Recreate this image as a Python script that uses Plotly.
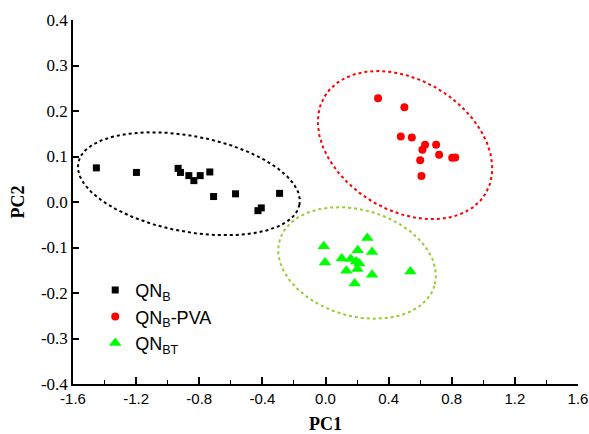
import numpy as np
import plotly.graph_objects as go

# ---- data ----
qnb_x = [-1.452, -1.198, -0.934, -0.919, -0.866, -0.834, -0.794, -0.733, -0.709, -0.570, -0.428, -0.407, -0.291]
qnb_y = [0.075, 0.065, 0.074, 0.065, 0.058, 0.047, 0.058, 0.066, 0.012, 0.018, -0.019, -0.013, 0.019]

pva_x = [0.333, 0.500, 0.477, 0.547, 0.631, 0.701, 0.614, 0.720, 0.600, 0.803, 0.822, 0.608]
pva_y = [0.228, 0.208, 0.144, 0.142, 0.126, 0.126, 0.115, 0.104, 0.092, 0.097, 0.098, 0.057]

qnbt_x = [-0.011, 0.265, 0.204, 0.295, -0.003, 0.103, 0.160, 0.194, 0.214, 0.202, 0.132, 0.295, 0.538, 0.185]
qnbt_y = [-0.097, -0.079, -0.106, -0.110, -0.133, -0.124, -0.125, -0.131, -0.135, -0.147, -0.151, -0.160, -0.153, -0.179]

series_names = ["QN<sub>B</sub>", "QN<sub>B</sub>-PVA", "QN<sub>BT</sub>"]

x_ticks = [-1.6, -1.2, -0.8, -0.4, 0.0, 0.4, 0.8, 1.2, 1.6]
y_ticks = [-0.4, -0.3, -0.2, -0.1, 0.0, 0.1, 0.2, 0.3, 0.4]
x_ticktext = ["-1.6", "-1.2", "-0.8", "-0.4", "0.0", "0.4", "0.8", "1.2", "1.6"]
y_ticktext = ["-0.4", "-0.3", "-0.2", "-0.1", "0.0", "0.1", "0.2", "0.3", "0.4"]

# ---- layout constants ----
W, H = 589, 434
M = dict(l=73, r=11, t=20, b=50)
XR = [-1.6, 1.6]
YR = [-0.4, 0.4]
sx = (W - M["l"] - M["r"]) / (XR[1] - XR[0])
sy = (H - M["t"] - M["b"]) / (YR[1] - YR[0])

# group ellipses: centre (data), semi-axes (screen px), tilt (deg, clockwise on screen), colour
ellipse_style = [
    dict(cx=-0.866, cy=0.040, a=112.6, b=47.9, ang=10.7, color="#000000"),
    dict(cx=0.504, cy=0.125, a=94.0, b=65.2, ang=31.2, color="#ff0000"),
    dict(cx=0.200, cy=-0.134, a=80.7, b=53.1, ang=16.4, color="#99cc33"),
]


def ellipse(cx, cy, a, b, ang):
    t = np.linspace(0, 2 * np.pi, 361)
    th = np.deg2rad(ang)
    u = a * np.cos(t)
    v = b * np.sin(t)
    dxp = u * np.cos(th) - v * np.sin(th)
    dyp = u * np.sin(th) + v * np.cos(th)
    return cx + dxp / sx, cy - dyp / sy


fig = go.Figure()

for e in ellipse_style:
    ex, ey = ellipse(e["cx"], e["cy"], e["a"], e["b"], e["ang"])
    fig.add_trace(go.Scatter(x=ex, y=ey, mode="lines", showlegend=False, hoverinfo="skip",
                             line=dict(color=e["color"], width=2, dash="dot")))

fig.add_trace(go.Scatter(x=qnb_x, y=qnb_y, mode="markers", name=series_names[0],
                         marker=dict(symbol="square", size=7, color="#000000")))
fig.add_trace(go.Scatter(x=pva_x, y=pva_y, mode="markers", name=series_names[1],
                         marker=dict(symbol="circle", size=8, color="#ff0000")))
fig.add_trace(go.Scatter(x=qnbt_x, y=qnbt_y, mode="markers", name=series_names[2],
                         marker=dict(symbol="triangle-up", size=11, color="#00ff00")))

serif = "Liberation Serif, Times New Roman, serif"
sans = "Liberation Sans, Arial, sans-serif"

fig.update_layout(
    width=W, height=H, margin=M,
    paper_bgcolor="white", plot_bgcolor="white",
    showlegend=True,
    legend=dict(x=0.044, y=0.308, xanchor="left", yanchor="top",
                font=dict(family=sans, size=18, color="black"),
                bgcolor="rgba(0,0,0,0)", tracegroupgap=0),
    xaxis=dict(range=XR, tickvals=x_ticks, ticktext=x_ticktext, automargin=False,
               ticks="inside", ticklen=7, tickwidth=1.5, tickcolor="black",
               minor=dict(dtick=0.2, tick0=-1.6, ticks="inside", ticklen=4, tickwidth=1.2,
                          tickcolor="black", showgrid=False),
               showline=True, linewidth=1.5, linecolor="black", mirror=False,
               showgrid=False, zeroline=False,
               tickfont=dict(family=sans, size=15, color="black"),
               title=dict(text="<b>PC1</b>", font=dict(family=serif, size=18, color="black"), standoff=14)),
    yaxis=dict(range=YR, tickvals=y_ticks, ticktext=y_ticktext, automargin=False,
               ticks="inside", ticklen=6, tickwidth=1.5, tickcolor="black",
               showline=True, linewidth=1.5, linecolor="black", mirror=False,
               showgrid=False, zeroline=False,
               tickfont=dict(family=serif, size=17, color="black"),
               title=dict(text="<b>PC2</b>", font=dict(family=serif, size=18, color="black"), standoff=12)),
)

fig.write_html("out.html")
